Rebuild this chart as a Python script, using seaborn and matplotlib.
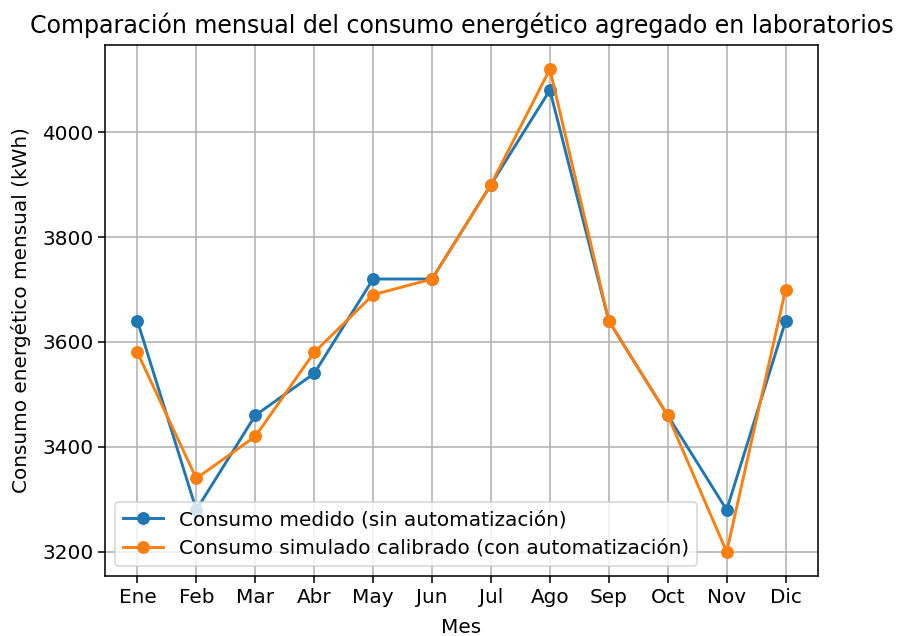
import matplotlib
matplotlib.use("Agg")
import matplotlib.pyplot as plt
import seaborn as sns
import pandas as pd

meses = ["Ene", "Feb", "Mar", "Abr", "May", "Jun", "Jul", "Ago", "Sep", "Oct", "Nov", "Dic"]
medido = [3640, 3280, 3460, 3540, 3720, 3720, 3900, 4080, 3640, 3460, 3280, 3640]
simulado = [3580, 3340, 3420, 3580, 3690, 3720, 3900, 4120, 3640, 3460, 3200, 3700]
serie_medido = "Consumo medido (sin automatización)"
serie_simulado = "Consumo simulado calibrado (con automatización)"

df = pd.DataFrame({
    "Mes": meses * 2,
    "Consumo": medido + simulado,
    "Serie": [serie_medido] * len(meses) + [serie_simulado] * len(meses),
})
df["idx"] = list(range(len(meses))) * 2

plt.rcParams["font.family"] = ["DejaVu Sans"]
S = 1.4
F = 1.44
fig = plt.figure(figsize=(8.99, 6.36), dpi=100)
ax = fig.add_axes([105 / 899, (636 - 576) / 636, 713 / 899, 531 / 636])

sns.lineplot(data=df, x="idx", y="Consumo", hue="Serie", marker="o",
             palette=["#1f77b4", "#ff7f0e"], linewidth=1.5 * S, markersize=9.3,
             markeredgewidth=0, sort=False, ax=ax)

ax.set_xticks(range(len(meses)))
ax.set_xticklabels(meses)
ax.tick_params(labelsize=10 * F, length=3.5 * S, width=0.8 * S)
ax.set_xlabel("Mes", fontsize=10 * F, labelpad=8)
ax.set_ylabel("Consumo energético mensual (kWh)", fontsize=10 * F, labelpad=8)
ax.set_title("Comparación mensual del consumo energético agregado en laboratorios",
             fontsize=12 * 1.425, pad=9)
ax.grid(True, color="#b0b0b0", linewidth=0.8 * S)
ax.set_axisbelow(True)
for sp in ax.spines.values():
    sp.set_linewidth(0.8 * S)
ax.margins(x=0.05, y=0.05)
leg = ax.legend(loc="lower left", fontsize=10 * F, title=None)
leg.get_frame().set_linewidth(0.8 * S)

fig.savefig("out.png", dpi=100)
